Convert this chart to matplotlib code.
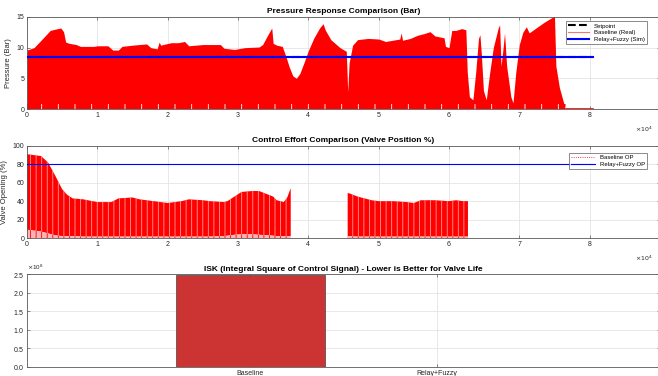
import numpy as np
import matplotlib
matplotlib.use("Agg")
import matplotlib.pyplot as plt

plt.rcParams["font.family"] = ["Liberation Sans", "DejaVu Sans"]
plt.rcParams["hatch.linewidth"] = 0.6

# === Pressure (baseline, real plant) - peak envelope of the oscillation ===
p_t = [0, 1000, 2000, 3300, 4000, 4800, 5200, 5500, 6000, 7000, 7600, 9500,
       10000, 11500, 12200, 13000, 13500, 15000, 17000, 17600, 18500, 18800,
       19000, 20500, 21500, 22400, 23000, 25000, 27500, 28000, 29500, 31000,
       33000, 33500, 34300, 34800, 35000, 35500, 36300, 36800, 37300, 37800,
       38300, 38800, 39400, 40000, 40800, 41600, 42100, 42400, 43200, 44500,
       45400, 45600, 45800, 46300, 47000, 48500, 50000, 51000, 52000, 53000,
       53200, 53400, 54500, 55500, 56500, 57300, 58000, 59300, 59500, 60000,
       60400, 61000, 61800, 62400, 62600, 62900, 63400, 63800, 64200, 64400,
       64600, 64900, 65300, 65800, 66300, 67000, 67200, 67400, 67700, 67900,
       68200, 68800, 69100, 69500, 70000, 70500, 71000, 71400, 72500, 73500,
       74500, 75000, 75200, 75700, 76500]
p_peak = [9.6, 10.0, 11.2, 12.8, 13.0, 13.2, 12.6, 10.9, 10.7, 10.5, 10.2, 10.2,
          10.3, 10.3, 9.6, 9.6, 10.2, 10.4, 10.6, 10.0, 9.8, 10.9,
          10.4, 10.8, 10.8, 11.0, 10.3, 10.5, 10.5, 9.9, 9.7, 10.0,
          10.1, 10.5, 12.2, 13.2, 10.7, 10.4, 10.2, 8.6, 6.8, 5.4,
          5.0, 5.8, 7.6, 9.5, 11.6, 13.2, 13.9, 12.9, 11.3, 10.0,
          9.4, 2.8, 7.5, 10.4, 11.3, 11.5, 11.4, 11.0, 11.2, 11.4,
          12.4, 11.2, 11.5, 12.0, 12.3, 12.6, 11.9, 11.6, 10.2, 10.0,
          12.8, 12.8, 13.1, 12.9, 6.0, 2.0, 1.5, 6.0, 11.5, 12.1,
          9.0, 3.0, 1.5, 6.0, 10.0, 13.2, 13.7, 7.0, 10.0, 12.4,
          7.0, 2.0, 1.0, 6.0, 10.5, 12.5, 13.4, 12.4, 13.3, 14.1,
          14.8, 15.1, 7.0, 3.5, 0.2]
p_floor = 0.9          # lowest dense swing, below it only sparse spikes
p_tail = [76500, 80500]   # baseline logged at zero until the run ends
setpoint = 8.4
sim_t = [0, 80500]

# === Valve position (baseline OP) - two logged segments ===
op_t1 = [0, 1000, 2000, 3000, 4000, 5000, 5700, 6500, 8000, 10000, 12000,
         13000, 15000, 16000, 18000, 20000, 22000, 23000, 25000, 26000,
         28000, 28500, 29500, 30500, 32000, 33000, 34000, 35000, 35500,
         36500, 37000, 37500]
op_hi1 = [91, 90, 89, 82, 68, 53, 47, 43, 42, 39, 39,
          43, 44, 42, 40, 38, 40, 42, 41, 40,
          39, 40, 45, 50, 51, 51, 48, 45, 41,
          39, 44, 54]
op_lo1 = [9, 8, 7, 5, 3, 2, 2, 2, 1.5, 1.5, 1.5,
          1.5, 1.5, 1.5, 1.5, 1.5, 1.5, 1.5, 1.5, 1.5,
          2, 2.5, 3.5, 4, 4, 3.5, 3, 2.5, 2,
          2, 2, 2]
op_t2 = [45600, 46000, 47000, 48000, 49000, 50000, 52000, 54000, 55000,
         56000, 58000, 60000, 61000, 62000, 62700]
op_hi2 = [49, 48, 45, 43, 41, 40, 40, 39, 38, 41, 41, 40, 41, 40, 40]
op_lo2 = [2, 2, 1.5, 1.5, 1.5, 1.5, 1.5, 1.5, 1.5, 1.5, 1.5, 1.5, 1.5, 1.5, 1.5]
op_zero = [37500, 80500]
sim_op = 80

# === ISK per controller ===
isk_labels = ["Baseline", "Relay+Fuzzy"]
isk_values = [2.47e8, 0.6e6]

fig = plt.figure(figsize=(6.58, 3.76), dpi=100)
ax1 = fig.add_axes([0.041, 0.710, 0.962, 0.245])
ax2 = fig.add_axes([0.041, 0.367, 0.962, 0.245])
ax3 = fig.add_axes([0.041, 0.024, 0.962, 0.247])

spine_c = "#5a5a5a"
grid_c = "#e4e4e4"

def style(ax):
    ax.set_axisbelow(True)
    ax.grid(True, color=grid_c, linewidth=0.6)
    ax.tick_params(direction="in", top=True, right=True, length=2.5,
                   width=0.5, labelsize=5, color=spine_c, pad=2,
                   labelcolor="#262626")
    for s in ax.spines.values():
        s.set_color(spine_c)
        s.set_linewidth(0.6)

# --- pressure ---
red = "#ff0000"
ax1.fill_between(p_t, p_floor, p_peak, color=red, linewidth=0, zorder=2)
ax1.fill_between(p_t, 0, p_floor, facecolor=red, edgecolor="white",
                 hatch="|", linewidth=0, zorder=2)
ax1.plot(p_tail, [0, 0], color=red, linewidth=1.2, zorder=2)
ax1.plot(sim_t, [setpoint, setpoint], "k--", linewidth=1.5, zorder=3,
         label="Setpoint")
ax1.plot([], [], color="#ff7070", linewidth=0.8, label="Baseline (Real)")
ax1.plot(sim_t, [setpoint, setpoint], color="#0000ff", linewidth=1.5,
         zorder=4, label="Relay+Fuzzy (Sim)")
ax1.set_xlim(0, 90000)
ax1.set_ylim(0, 15)
ax1.set_yticks([0, 5, 10, 15])
ax1.set_ylabel("Pressure (Bar)", fontsize=5.5, labelpad=3, color="#262626")
ax1.set_title("Pressure Response Comparison (Bar)", fontsize=6,
              fontweight="bold", pad=2.5)
leg1 = ax1.legend(loc="upper right", fontsize=4.3, frameon=True,
                  fancybox=False, handlelength=3.5, borderpad=0.35,
                  labelspacing=0.25, bbox_to_anchor=(0.984, 0.985))
leg1.get_frame().set_edgecolor("#555555")
leg1.get_frame().set_linewidth(0.6)

# --- valve position ---
for t, lo, hi in [(op_t1, op_lo1, op_hi1), (op_t2, op_lo2, op_hi2)]:
    ax2.fill_between(t, lo, hi, facecolor=red, edgecolor="#ff9a9a",
                     hatch="|||", linewidth=0, zorder=2)
    ax2.fill_between(t, 0, lo, facecolor="#ffb3b3", edgecolor=red,
                     hatch="|||", linewidth=0, zorder=2)
ax2.plot(op_zero, [0, 0], color="#ff8080", linewidth=0.8, linestyle=":",
         zorder=2)
ax2.plot([], [], color=red, linewidth=0.6, linestyle=":", label="Baseline OP")
ax2.plot(sim_t, [sim_op, sim_op], color="#0000ff", linewidth=0.8, zorder=4,
         label="Relay+Fuzzy OP")
ax2.set_xlim(0, 90000)
ax2.set_ylim(0, 100)
ax2.set_yticks(np.arange(0, 101, 20))
ax2.set_ylabel("Valve Opening (%)", fontsize=5.5, labelpad=3, color="#262626")
ax2.set_title("Control Effort Comparison (Valve Position %)", fontsize=6,
              fontweight="bold", pad=2.5)
leg2 = ax2.legend(loc="upper right", fontsize=4.3, frameon=True,
                  fancybox=False, handlelength=4, borderpad=0.35,
                  labelspacing=0.25, bbox_to_anchor=(0.984, 0.955))
leg2.get_frame().set_edgecolor("#555555")
leg2.get_frame().set_linewidth(0.6)

for ax in (ax1, ax2):
    # grid runs to 9e4 at the frame edge, labels stop at 8e4
    ax.set_xticks(np.arange(0, 90001, 10000))
    ax.set_xticklabels([str(i) for i in range(9)] + [""])
    ax.text(0.988, -0.17, r"$\times10^{4}$", transform=ax.transAxes,
            fontsize=4.5, ha="right", va="top", color="#262626")

# --- ISK bars ---
ax3.bar([1, 2], isk_values, width=0.8, color=["#cc3333", "#3355cc"],
        edgecolor="#444444", linewidth=0.5, zorder=2)
ax3.set_xlim(-0.2, 3.2)
ax3.set_ylim(0, 2.5e8)
ax3.set_xticks([1, 2])
ax3.set_xticklabels(isk_labels)
ax3.set_yticks(np.arange(0, 2.51e8, 0.5e8))
ax3.ticklabel_format(style="sci", axis="y", scilimits=(0, 0),
                     useMathText=True)
ax3.yaxis.get_offset_text().set_fontsize(4.5)
ax3.set_title("ISK (Integral Square of Control Signal) - Lower is Better for Valve Life",
              fontsize=6, fontweight="bold", pad=2.5)

for ax in (ax1, ax2, ax3):
    style(ax)

fig.savefig("out.png", dpi=100)
